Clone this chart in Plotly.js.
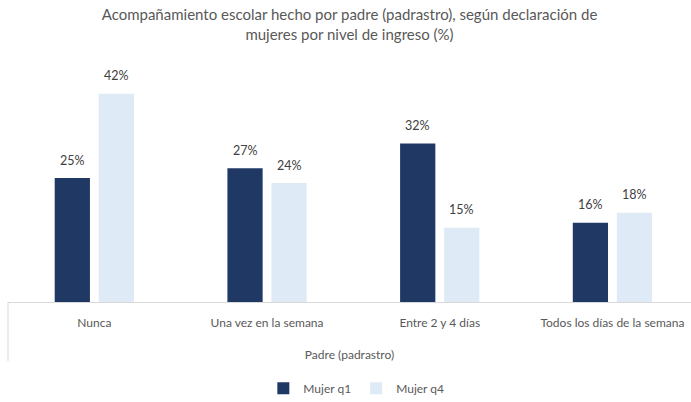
<!DOCTYPE html>
<html>
<head>
<meta charset="utf-8">
<script src="https://cdn.plot.ly/plotly-3.0.1.min.js"></script>
<style>
html,body{margin:0;padding:0;overflow:hidden;background:#fff;}
#chart{width:691px;height:402px;}
</style>
</head>
<body>
<div id="chart"></div>
<script>
const categories = ["Nunca", "Una vez en la semana", "Entre 2 y 4 días", "Todos los días de la semana"];
const seriesNames = ["Mujer q1", "Mujer q4"];
const q1Values = [25, 27, 32, 16];
const q4Values = [42, 24, 15, 18];
const colors = ["#203864", "#DEEAF6"];

const font = "Lato, 'Open Sans', sans-serif";

const traces = [q1Values, q4Values].map((vals, i) => ({
  type: "bar",
  name: seriesNames[i],
  x: categories,
  y: vals,
  marker: {color: colors[i]},
  hoverinfo: "skip"
}));

// data labels above each bar, placed via the axis scales
const offsets = [-22, 22];
const annotations = [];
[q1Values, q4Values].forEach((vals, i) => {
  vals.forEach((v, j) => {
    annotations.push({
      x: categories[j], y: v, xref: "x", yref: "y",
      text: v + "%", showarrow: false,
      xshift: offsets[i], yshift: 18, yanchor: "middle",
      font: {family: font, size: 12.5, color: "#404040"}
    });
  });
});

const layout = {
  width: 691, height: 402,
  margin: {l: 8, r: 0, t: 79, b: 100},
  paper_bgcolor: "#fff", plot_bgcolor: "#fff",
  font: {family: font, color: "#595959"},
  title: {
    text: "Acompañamiento escolar hecho por padre (padrastro), según declaración de<br>mujeres por nivel de ingreso (%)",
    font: {family: font, size: 15, color: "#595959"},
    x: 0.5, xanchor: "center", xref: "paper",
    y: 0.95, yanchor: "middle", yref: "container"
  },
  barmode: "group",
  bargap: 0.49,
  bargroupgap: 0.2,
  xaxis: {
    type: "category",
    range: [-0.5, 3.455],
    showline: true, linecolor: "#D9D9D9", linewidth: 1,
    ticks: "", showgrid: false, zeroline: false,
    tickfont: {family: font, size: 12, color: "#595959"},
    ticklabelstandoff: 10,
    title: {text: "Padre (padrastro)", font: {family: font, size: 12, color: "#595959"}, standoff: 21}
  },
  yaxis: {
    range: [0, 45],
    visible: false, showgrid: false, zeroline: false
  },
  annotations: annotations,
  showlegend: true,
  legend: {
    orientation: "h",
    x: 0.51, xanchor: "center", xref: "paper",
    y: 0.034, yanchor: "middle", yref: "container",
    font: {family: font, size: 12, color: "#595959"},
    itemwidth: 30, traceorder: "normal"
  },
  shapes: [
    {type: "line", xref: "paper", yref: "paper", x0: 0, x1: 0, y0: 0, y1: -0.265, line: {color: "#D9D9D9", width: 1}}
  ]
};

Plotly.newPlot("chart", traces, layout, {displayModeBar: false, staticPlot: true});
</script>
</body>
</html>
